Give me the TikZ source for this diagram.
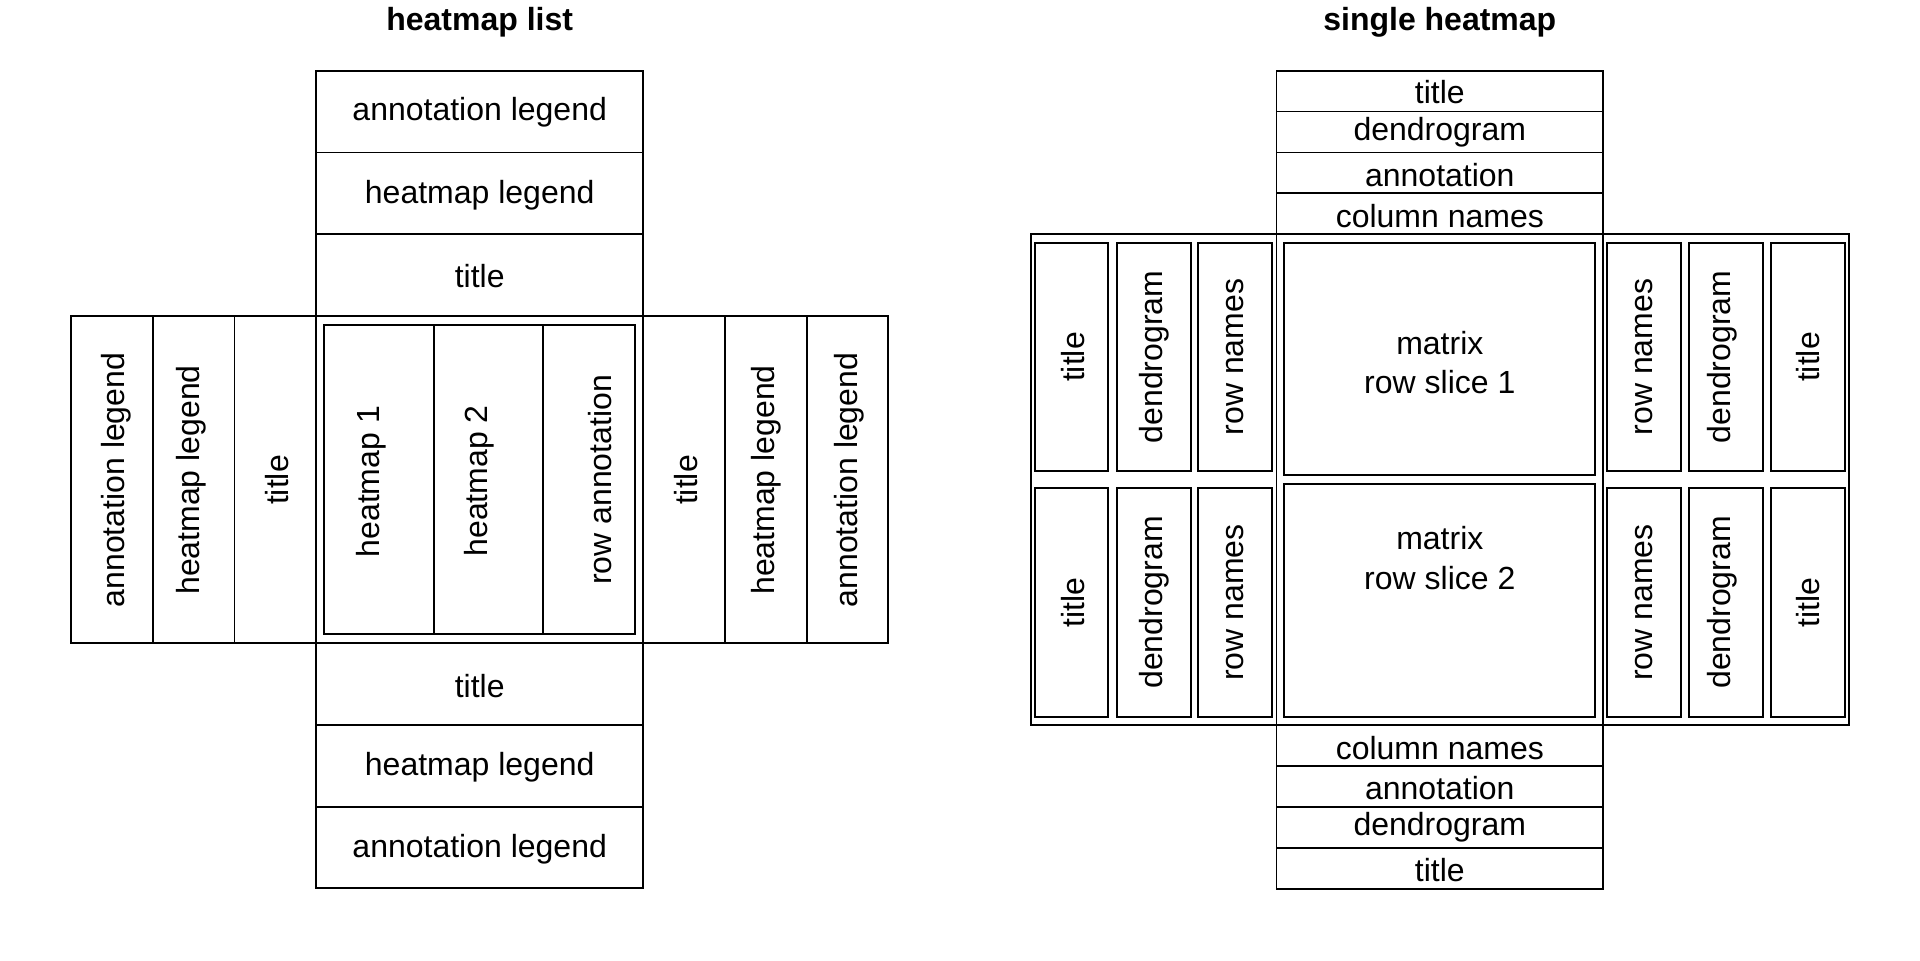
\documentclass[tikz,border=0pt]{standalone}
\usepackage{fontspec}
\setmainfont{Liberation Sans}
\begin{document}
\begin{tikzpicture}[x=0.5pt,y=-0.5pt,
  frame/.style={draw=black,line width=0.85pt},
  lbl/.style={inner sep=0pt,font=\fontsize{16}{19.6}\selectfont},
  vlbl/.style={lbl,rotate=90},
  head/.style={inner sep=0pt,anchor=base,font=\fontsize{16}{19.6}\selectfont\bfseries}]
\useasboundingbox (0,0) rectangle (1920,960);

% heatmap list
\node[head] (listhead) at (479.7,30.7) {heatmap list};
\foreach \txt/\ya/\yb/\yt [count=\i] in {annotation legend/70.7/152.4/112.7, heatmap legend/152.4/234.1/195.3, title/234.1/316/276.3}
  { \draw[frame] (316,\ya) rectangle (643.3,\yb);
    \node[lbl] (ltop\i) at (479.7,\yt) {\txt}; }
\foreach \txt/\ya/\yb/\yt [count=\i] in {title/643.3/725/685.8, heatmap legend/725/806.7/767.2, annotation legend/806.7/888.3/849.7}
  { \draw[frame] (316,\ya) rectangle (643.3,\yb);
    \node[lbl] (lbot\i) at (479.7,\yt) {\txt}; }
\foreach \txt/\xa/\xb/\xt [count=\i] in {annotation legend/71/152.7/115.8, heatmap legend/152.7/234.4/190.8, title/234.4/316/277.5,
    title/643.3/725/685.8, heatmap legend/725/806.7/765.8, annotation legend/806.7/888.3/849.2}
  { \draw[frame] (\xa,316) rectangle (\xb,643.3);
    \node[vlbl] (lside\i) at (\xt,480) {\txt}; }
\draw[frame] (316,316) rectangle (643.3,643.3);
\foreach \txt/\xa/\xb/\xt/\yt [count=\i] in {heatmap 1/324.3/433.7/370.8/481.7, heatmap 2/433.7/542.7/479.2/480.8, row annotation/542.7/635.3/600/480}
  { \draw[frame] (\xa,324.7) rectangle (\xb,634.3);
    \node[vlbl] (hm\i) at (\xt,\yt) {\txt}; }

% single heatmap
\node[head] (singlehead) at (1439.8,30.7) {single heatmap};
\foreach \txt/\ya/\yb/\yt [count=\i] in {title/70.7/111.6/92.5, dendrogram/111.6/152.4/132.5, annotation/152.4/193.3/175, column names/193.3/234.1/216.3,
    column names/725/766/748.3, annotation/766/806.7/788.3, dendrogram/806.7/848/827.5, title/848/888.7/870}
  { \draw[frame] (1276.4,\ya) rectangle (1603.2,\yb);
    \node[lbl] (col\i) at (1439.8,\yt) {\txt}; }
\draw[frame] (1031.3,234.1) rectangle (1849.3,725);
\draw[frame] (1276.4,234.1) rectangle (1603.2,725);
\foreach \sa/\sb/\sy [count=\s] in {242.7/471/357, 488/716.7/602.5}
  { \foreach \txt/\xa/\xb/\xt [count=\i] in {title/1035/1108.3/1073.3, dendrogram/1116.7/1190.7/1154.2, row names/1198.3/1272.3/1235,
        row names/1607.3/1681.3/1644, dendrogram/1689/1763/1722.5, title/1770.7/1845/1808}
      { \draw[frame] (\xa,\sa) rectangle (\xb,\sb);
        \node[vlbl] (side\s\i) at (\xt,\sy) {\txt}; } }
\foreach \ma/\mb/\my [count=\s] in {242.7/475/362.2, 483.7/716.7/558}
  { \draw[frame] (1284,\ma) rectangle (1595.3,\mb);
    \node[lbl,align=center] (slice\s) at (1439.8,\my) {matrix\\row slice \s}; }
\end{tikzpicture}
\end{document}
